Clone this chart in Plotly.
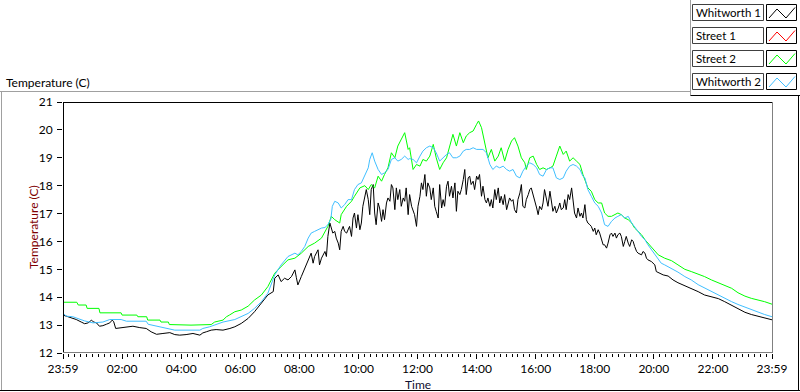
import plotly.graph_objects as go

# ---------------- data (time in minutes after 23:59, temperature in C) ----------------
tick_min = [0, 120, 240, 360, 480, 600, 720, 840, 960, 1080, 1200, 1320, 1440]
tick_labels = ["23:59", "02:00", "04:00", "06:00", "08:00", "10:00", "12:00",
               "14:00", "16:00", "18:00", "20:00", "22:00", "23:59"]
y_ticks = [12, 13, 14, 15, 16, 17, 18, 19, 20, 21]
series_names = ["Whitworth 1", "Street 1", "Street 2", "Whitworth 2"]
series_colors = ["#000000", "#FF0000", "#00FF00", "#40BFFF"]

whitworth1_t = [0, 7, 17, 27, 37, 44, 51, 58, 61, 68, 74, 81, 88, 95, 100, 103, 107, 115, 129, 142,
                156, 169, 179, 190, 203, 217, 227, 237, 250, 264, 278, 284, 291, 301, 311, 325, 339, 349,
                362, 376, 389, 403, 416, 427, 430, 437, 443, 450, 457, 464, 471, 474, 477, 484, 491, 498,
                504, 508, 511, 518, 521, 525, 532, 535, 538, 542, 545, 548, 552, 555, 559, 562, 565, 569,
                572, 576, 582, 586, 589, 592, 596, 599, 603, 606, 609, 613, 616, 620, 623, 626, 630, 633,
                636, 640, 643, 647, 650, 653, 657, 660, 664, 667, 670, 674, 677, 680, 684, 687, 691, 694,
                697, 701, 704, 708, 711, 714, 718, 721, 725, 728, 731, 735, 738, 741, 745, 748, 752, 755,
                758, 762, 765, 769, 772, 775, 779, 782, 785, 789, 792, 796, 799, 802, 806, 809, 813, 816,
                819, 823, 826, 829, 833, 836, 840, 843, 846, 850, 853, 857, 860, 863, 867, 870, 873, 877,
                880, 884, 887, 890, 894, 897, 901, 904, 907, 911, 914, 917, 921, 924, 928, 931, 934, 938,
                941, 945, 948, 951, 955, 958, 962, 965, 968, 972, 975, 978, 982, 985, 989, 992, 995, 999,
                1002, 1006, 1009, 1012, 1016, 1019, 1022, 1026, 1029, 1033, 1036, 1039, 1043, 1046, 1050,
                1053, 1056, 1060, 1063, 1066, 1070, 1073, 1077, 1080, 1083, 1087, 1090, 1094, 1097, 1100,
                1104, 1107, 1111, 1114, 1117, 1121, 1124, 1127, 1131, 1134, 1138, 1141, 1144, 1148, 1151,
                1155, 1158, 1161, 1165, 1168, 1175, 1178, 1182, 1185, 1188, 1195, 1202, 1205, 1212, 1219,
                1229, 1239, 1249, 1259, 1270, 1280, 1290, 1303, 1317, 1331, 1344, 1358, 1371, 1385, 1398,
                1412, 1425, 1440]
whitworth1_v = [13.36, 13.32, 13.27, 13.2, 13.11, 13.05, 13.08, 13.18, 13.12, 13.08, 12.96, 12.98, 13.03,
                13.08, 13.18, 13.12, 12.88, 12.9, 12.94, 12.96, 12.91, 12.88, 12.76, 12.67, 12.7, 12.73,
                12.66, 12.64, 12.66, 12.7, 12.64, 12.72, 12.76, 12.82, 12.84, 12.82, 12.88, 12.94,
                13.06, 13.24, 13.48, 13.78, 14.08, 14.2, 14.68, 14.8, 14.56, 14.68, 14.62, 14.74, 14.98,
                14.7, 14.44, 14.74, 15.04, 15.34, 15.58, 15.22, 15.46, 15.7, 15.16, 15.4, 15.64, 15.46,
                16.18, 16.66, 16.48, 16.3, 16.36, 16.12, 15.94, 15.7, 16.36, 16.54, 16.36, 16.3, 16.54,
                16.18, 16.84, 17.02, 16.48, 16.96, 16.42, 16.66, 17.26, 17.62, 17.86, 17.5, 16.96, 17.86,
                18.04, 17.02, 16.6, 17.38, 17.2, 16.72, 17.14, 16.78, 17.38, 17.56, 17.44, 18.04, 17.92,
                17.14, 17.92, 17.5, 17.86, 17.26, 17.56, 17.44, 17.92, 16.96,
                17.68, 17.26, 17.14, 16.96, 16.54, 17.26, 17.62, 18.1, 17.86, 18.4, 17.62, 18.1, 17.92,
                17.5, 17.92, 17.26, 17.08, 16.84, 18.04, 17.2, 17.5, 17.26, 17.98, 18.16, 17.62, 17.98,
                17.56, 18.1, 17.08, 17.8, 17.68, 17.86, 18.22, 18.58, 17.68, 18.28, 18.34, 18.04, 18.16,
                17.86, 18.34, 18.22, 18.4, 17.62, 17.98, 17.5, 17.38, 17.56, 17.26, 17.5, 17.2, 17.86,
                17.5, 17.92, 17.38, 17.62, 17.32, 17.68, 17.14, 17.38, 17.56, 17.44, 17.5, 17.14, 17.02,
                17.5, 17.74, 18.04, 17.26, 17.2, 17.5, 17.68, 17.86, 17.92, 17.68, 17.5, 17.2, 16.96,
                17.26, 17.14, 17.38, 17.86, 17.5, 17.26, 17.8, 17.5, 17.08, 17.26, 17.02, 17.2, 17.38,
                17.14, 17.2, 17.5, 17.14, 17.68, 17.5, 17.92, 17.5, 17.02, 16.84, 17.2, 16.9, 17.02,
                16.84, 17.32, 16.78, 16.66, 16.6, 16.54, 16.36, 16.48, 16.24, 16.42, 16.3, 16.06, 15.88,
                15.88, 15.76, 15.94, 16.24, 16.3, 16.18, 16.3, 16.12, 16.24, 16.3, 16.18, 15.82, 16.0,
                16.18, 15.94, 15.82, 16.06, 16.0, 15.82, 15.64, 15.58, 15.52, 15.64, 15.58, 15.4, 15.34,
                15.28, 15.16, 14.92, 14.86, 14.8, 14.76, 14.62, 14.52, 14.44, 14.38, 14.28, 14.2, 14.08,
                14.02, 13.95, 13.84, 13.7, 13.57, 13.46, 13.38, 13.31, 13.25, 13.19]

street1_t = []
street1_v = []

street2_t = [0, 28, 31, 47, 49, 73, 75, 118, 120, 150, 152, 170, 172, 197, 199, 214, 216, 260, 301, 308,
             325, 332, 338, 349, 362, 376, 389, 403, 416, 430, 443, 457, 471, 484, 498, 511, 525, 532,
             538, 545, 552, 562, 565, 576, 586, 592, 603, 613, 620, 626, 633, 640, 647, 653, 660, 667,
             674, 680, 687, 694, 701, 704, 711, 718, 725, 731, 738, 745, 752, 758, 765, 772, 779, 785,
             792, 799, 806, 813, 819, 826, 833, 840, 844, 850, 857, 863, 870, 877, 884, 890, 897, 904,
             911, 917, 924, 931, 938, 941, 948, 955, 962, 968, 975, 982, 989, 995, 1002, 1009, 1016,
             1022, 1029, 1036, 1043, 1050, 1056, 1060, 1066, 1073, 1080, 1087, 1094, 1100, 1107, 1114,
             1121, 1127, 1134, 1141, 1148, 1155, 1161, 1168, 1175, 1182, 1188, 1195, 1202, 1209, 1222,
             1236, 1249, 1263, 1276, 1290, 1303, 1317, 1331, 1344, 1358, 1371, 1385, 1398, 1412, 1425,
             1440]
street2_v = [13.82, 13.82, 13.72, 13.72, 13.6, 13.6, 13.44, 13.44, 13.36, 13.36, 13.3, 13.3, 13.18, 13.18,
             13.11, 13.11, 13.02, 13.0, 13.02, 13.11, 13.18, 13.3, 13.36, 13.48, 13.54, 13.68, 13.9,
             14.08, 14.38, 14.86, 15.1, 15.34, 15.4, 15.58, 15.82, 15.94, 16.12, 16.36, 16.54, 16.9,
             16.78, 16.66, 16.96, 17.26, 17.44, 17.62, 17.92, 18.0, 17.86, 18.04, 17.92, 18.34, 18.16,
             18.4, 18.64, 19.18, 19.0, 19.42, 19.66, 19.9, 19.3, 19.36, 18.58, 18.76, 18.7, 18.94,
             18.88, 19.06, 19.48, 19.0, 18.58, 18.82, 19.0, 19.36, 19.84, 19.42, 19.9, 19.54, 19.78,
             19.9, 19.96, 20.2, 20.32, 20.08, 19.54, 19.0, 19.3, 18.88, 19.06, 19.36, 18.88, 19.3,
             19.6, 19.72, 19.42, 19.0, 18.82, 18.58, 19.0, 19.06, 18.76, 18.58, 18.64, 18.58, 18.64,
             18.7, 19.06, 19.42, 19.12, 19.24, 18.88, 19.0, 18.88, 18.76, 18.4, 18.22, 17.92, 17.8,
             17.5, 17.38, 17.38, 17.02, 16.9, 16.9, 16.96, 17.02, 16.96, 16.84, 16.78, 16.66, 16.48,
             16.36, 16.24, 16.06, 15.94, 15.76, 15.64, 15.52, 15.4, 15.31, 15.16, 15.0, 14.92, 14.83,
             14.74, 14.62, 14.52, 14.44, 14.32, 14.16, 14.04, 13.96, 13.9, 13.84, 13.75]

whitworth2_t = [0, 7, 20, 30, 44, 61, 81, 95, 118, 129, 169, 173, 196, 217, 227, 278, 284, 298, 311, 325,
                349, 362, 376, 389, 403, 416, 430, 443, 457, 471, 477, 484, 491, 498, 504, 511, 518, 525,
                532, 538, 544, 547, 552, 559, 565, 572, 579, 586, 592, 599, 606, 613, 620, 623, 628, 633,
                640, 647, 653, 660, 667, 674, 680, 687, 694, 701, 704, 711, 718, 725, 731, 738, 745, 752,
                758, 765, 772, 779, 785, 792, 799, 806, 813, 819, 826, 833, 840, 846, 853, 860, 867, 873,
                880, 887, 894, 901, 907, 914, 921, 928, 934, 941, 948, 955, 962, 968, 975, 982, 989, 995,
                1002, 1009, 1016, 1022, 1029, 1036, 1043, 1050, 1056, 1060, 1066, 1073, 1080, 1087, 1094,
                1100, 1107, 1114, 1121, 1127, 1134, 1141, 1148, 1155, 1161, 1168, 1175, 1182, 1188, 1195,
                1202, 1209, 1215, 1222, 1236, 1249, 1263, 1276, 1290, 1303, 1317, 1331, 1344, 1358, 1371,
                1385, 1398, 1412, 1425, 1440]
whitworth2_v = [13.42, 13.32, 13.3, 13.24, 13.15, 13.08, 13.11, 13.2, 13.2, 13.14, 13.14, 13.03, 12.94,
                12.88, 12.82, 12.82, 12.88, 12.94, 13.03, 13.11, 13.2, 13.3, 13.42, 13.6, 13.84, 14.14,
                14.8, 15.16, 15.46, 15.58, 15.52, 15.64, 15.82, 16.12, 16.3, 16.36, 16.42, 16.48, 16.5,
                16.6, 16.8, 17.26, 17.44, 17.38, 17.2, 17.32, 17.5, 17.5, 17.86, 18.04, 18.1, 18.4, 18.64,
                18.94, 19.18, 18.88, 18.58, 18.4, 18.46, 18.58, 18.94, 19.0, 18.88, 18.94, 19.06, 18.94,
                18.97, 18.94, 18.82, 19.06, 19.24, 19.36, 19.42, 19.36, 19.18, 18.88, 19.0, 19.12, 19.18,
                19.0, 19.0, 19.06, 19.24, 19.3, 19.3, 19.36, 19.3, 19.3, 19.3, 19.18, 18.76, 18.58, 18.7,
                18.64, 18.7, 18.58, 18.52, 18.58, 18.34, 18.28, 18.52, 18.7, 18.82, 18.76, 18.64, 18.4,
                18.34, 18.58, 18.64, 18.64, 18.28, 18.22, 18.28, 18.52, 18.7, 18.76, 18.7, 18.58, 18.34,
                18.28, 17.86, 17.62, 17.38, 17.26, 17.02, 16.6, 16.54, 16.72, 16.84, 16.9, 16.96, 16.84,
                16.9, 16.66, 16.54, 16.36, 16.18, 16.06, 15.88, 15.7, 15.52, 15.34, 15.22, 15.16, 15.04,
                14.9, 14.74, 14.62, 14.45, 14.33, 14.2, 14.06, 13.96, 13.84, 13.74, 13.64, 13.56, 13.46,
                13.38, 13.3]

# ---------------- styling ----------------
FONT = "Segoe UI, Lato, Liberation Sans, sans-serif"
W, H = 800, 392
L, R, T, B = 63, 28, 102, 39
PW, PH = W - L - R, H - T - B


def px(x):
    return (x - L) / PW


def py(y):
    return (H - B - y) / PH


fig = go.Figure()
data = [(whitworth1_t, whitworth1_v), (street1_t, street1_v), (street2_t, street2_v), (whitworth2_t, whitworth2_v)]
for name, color, (t, v) in zip(series_names, series_colors, data):
    fig.add_trace(go.Scatter(x=t, y=v, mode="lines", name=name,
                             line=dict(color=color, width=1), hoverinfo="skip"))

shapes = []


def line(x0, y0, x1, y1, color, width=1):
    shapes.append(dict(type="line", xref="paper", yref="paper", x0=px(x0), y0=py(y0),
                       x1=px(x1), y1=py(y1), line=dict(color=color, width=width), layer="above"))


def rect(x0, y0, x1, y1, color):
    shapes.append(dict(type="rect", xref="paper", yref="paper", x0=px(x0), y0=py(y0),
                       x1=px(x1), y1=py(y1), line=dict(color=color, width=1), fillcolor="white",
                       layer="above"))


# outer panel
line(0, 91.5, 690.5, 91.5, "#A0A0A0")
line(1.5, 91.5, 1.5, 391, "#A0A0A0")
line(0, 390.5, 800, 390.5, "#000000")
line(798.5, 95, 798.5, 391, "#000000")
line(690.5, 0, 690.5, 95.5, "#A0A0A0")
line(690.5, 95.5, 800, 95.5, "#000000")

# plot area frame
line(63, 102.5, 772.5, 102.5, "#000000")
line(63.5, 102, 63.5, 353, "#000000")
line(772.5, 102, 772.5, 353, "#808080")
line(63, 352.5, 773, 352.5, "#808080")

annotations = []
# legend
legend_tops = [4, 27, 50, 73]
for name, color, top in zip(series_names, series_colors, legend_tops):
    rect(692.5, top + 0.5, 763.5, top + 16.5, "#404040")
    rect(766.5, top + 0.5, 796.5, top + 16.5, "#000000")
    pts = [(769, top + 14), (777, top + 5), (786, top + 14), (795, top + 3.5)]
    path = "M " + " L ".join(f"{px(a)},{py(b)}" for a, b in pts)
    shapes.append(dict(type="path", xref="paper", yref="paper", path=path,
                       line=dict(color=color, width=1), layer="above"))
    annotations.append(dict(text=name, xref="paper", yref="paper", x=px(694), y=py(top + 8.5),
                            xanchor="left", yanchor="middle", showarrow=False,
                            font=dict(family=FONT, size=11.5, color="black")))

annotations.append(dict(text="Temperature (C)", xref="paper", yref="paper", x=px(4), y=py(82),
                        xanchor="left", yanchor="middle", showarrow=False,
                        font=dict(family=FONT, size=12, color="black")))
annotations.append(dict(text="Temperature (C)", xref="paper", yref="paper", x=px(33), y=py(227),
                        xanchor="center", yanchor="middle", textangle=-90, showarrow=False,
                        font=dict(family=FONT, size=12, color="#800000")))
annotations.append(dict(text="Time", xref="paper", yref="paper", x=px(418), y=py(384),
                        xanchor="center", yanchor="middle", showarrow=False,
                        font=dict(family=FONT, size=12, color="#101030")))

fig.update_layout(
    width=W, height=H, margin=dict(l=L, r=R, t=T, b=B, autoexpand=False),
    paper_bgcolor="white", plot_bgcolor="white", showlegend=False,
    font=dict(family=FONT, size=12, color="black"),
    shapes=shapes, annotations=annotations,
)
fig.update_xaxes(range=[0, 1440], tickmode="array", tickvals=tick_min, ticktext=tick_labels,
                 ticks="outside", ticklen=5, tickwidth=1, tickcolor="black",
                 showgrid=False, zeroline=False, showline=False,
                 minor=dict(tickmode="linear", tick0=0, dtick=12, ticks="outside", ticklen=3,
                            tickwidth=1, tickcolor="black", showgrid=False),
                 tickfont=dict(family=FONT, size=12, color="black"))
fig.update_yaxes(range=[12, 21], tickmode="array", tickvals=y_ticks,
                 ticks="outside", ticklen=5, tickwidth=1, tickcolor="black",
                 showgrid=False, zeroline=False, showline=False, ticklabelstandoff=2,
                 tickfont=dict(family=FONT, size=12, color="black"))

fig.write_html("out.html", config={"displayModeBar": False},
               post_script="document.body.style.margin='0';document.body.style.padding='0';"
                           "document.documentElement.style.overflow='hidden';")
